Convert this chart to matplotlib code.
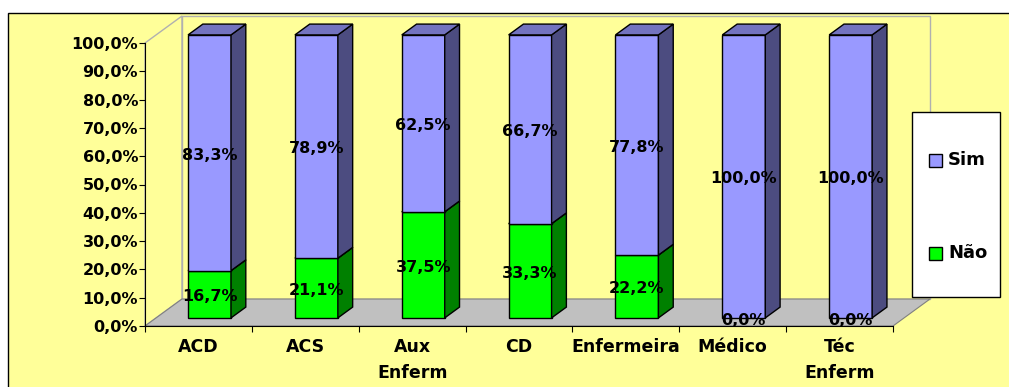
import numpy as np
import matplotlib
matplotlib.use("Agg")
import matplotlib.pyplot as plt
from matplotlib.patches import Polygon, Rectangle

categories = ["ACD", "ACS", "Aux\nEnferm", "CD", "Enfermeira", "Médico", "Téc\nEnferm"]
nao = [16.7, 21.1, 37.5, 33.3, 22.2, 0.0, 0.0]
sim = [83.3, 78.9, 62.5, 66.7, 77.8, 100.0, 100.0]
series_names = ["Sim", "Não"]

# face / side / top colours for each series
sim_cols = ("#9999FF", "#4C4C80", "#7373BF")
nao_cols = ("#00FF00", "#008000", "#00BF00")
bg = "#FFFF99"

plt.rcParams["font.family"] = "DejaVu Sans"
plt.rcParams["font.weight"] = "bold"
fs = 11.5

fig = plt.figure(figsize=(10.09, 3.87), dpi=100)
fig.patch.set_facecolor("white")

# chart area
fig.patches.append(Rectangle((8 / 1009, -0.05), 1.0, (387 - 13) / 387 + 0.05,
                             transform=fig.transFigure, facecolor=bg,
                             edgecolor="black", lw=1, zorder=-5))

ax = fig.add_axes([145 / 1009, (387 - 326) / 387, 748 / 1009, 283 / 387])
ax.set_facecolor("none")
n = len(categories)
ax.set_xlim(0, n)
ax.set_ylim(0, 100)

# depth of the 3d box in data units
D = 37 / (748 / n)
H = 27 / 2.83

# back wall, left wall, floor
ax.add_patch(Polygon([(D, H), (n + D, H), (n + D, 100 + H), (D, 100 + H)],
                     closed=True, facecolor=bg, edgecolor="#B0B0B0", lw=1,
                     clip_on=False, zorder=1))
ax.add_patch(Polygon([(0, 0), (D, H), (D, 100 + H), (0, 100)],
                     closed=True, facecolor="none", edgecolor="#B0B0B0", lw=1,
                     clip_on=False, zorder=1))
ax.add_patch(Polygon([(0, 0), (n, 0), (n + D, H), (D, H)],
                     closed=True, facecolor="#C0C0C0", edgecolor="#808080", lw=0.8,
                     clip_on=False, zorder=1))

bw = 0.402
f0, fd = 0.3, 0.4
ox, oy = f0 * D, f0 * H
bx, by = fd * D, fd * H


def seg(x0, y0, y1, cols, z):
    x1 = x0 + bw
    kw = dict(closed=True, edgecolor="black", lw=1, clip_on=False, zorder=z)
    ax.add_patch(Polygon([(x0, y0), (x1, y0), (x1, y1), (x0, y1)], facecolor=cols[0], **kw))
    ax.add_patch(Polygon([(x1, y0), (x1 + bx, y0 + by), (x1 + bx, y1 + by), (x1, y1)],
                         facecolor=cols[1], **kw))
    ax.add_patch(Polygon([(x0, y1), (x1, y1), (x1 + bx, y1 + by), (x0 + bx, y1 + by)],
                         facecolor=cols[2], **kw))


for i in range(n):
    x0 = i + 0.5 - bw / 2 + ox
    if nao[i] > 0:
        seg(x0, oy, oy + nao[i], nao_cols, 3 + i)
    seg(x0, oy + nao[i], oy + nao[i] + sim[i], sim_cols, 3 + i)
    xc = x0 + bw / 2
    for v, base in ((nao[i], 0), (sim[i], nao[i])):
        ax.text(xc, oy + base + v / 2 - 0.8, f"{v:.1f}%".replace(".", ","),
                ha="center", va="center", fontsize=fs, fontweight="bold",
                zorder=20, clip_on=False)

ax.spines["top"].set_visible(False)
ax.spines["right"].set_visible(False)
ax.spines["left"].set_zorder(15)
ax.spines["bottom"].set_zorder(15)

yt = np.arange(0, 101, 10)
ax.set_yticks(yt)
ax.set_yticklabels([f"{v:.1f}%".replace(".", ",") for v in yt], fontsize=fs, fontweight="bold")
ax.tick_params(axis="y", direction="out", length=4, pad=1)

ax.set_xticks(np.arange(0, n + 1))
ax.set_xticklabels([])
ax.tick_params(axis="x", which="major", direction="out", length=4)
ax.set_xticks(np.arange(n) + 0.5, minor=True)
ax.set_xticklabels(categories, minor=True, fontsize=12.5, fontweight="bold", linespacing=1.5)
ax.tick_params(axis="x", which="minor", length=0, pad=9)

# legend
fig.patches.append(Rectangle((912 / 1009, (387 - 297) / 387), 88 / 1009, 185 / 387,
                             transform=fig.transFigure, facecolor="white",
                             edgecolor="black", lw=1, zorder=30))
for name, cols, yc in ((series_names[0], sim_cols, 160), (series_names[1], nao_cols, 253)):
    fig.patches.append(Rectangle((929 / 1009, (387 - yc - 6.5) / 387), 13 / 1009, 13 / 387,
                                 transform=fig.transFigure, facecolor=cols[0],
                                 edgecolor="black", lw=1, zorder=31))
    fig.text(948 / 1009, (387 - yc) / 387, name, ha="left", va="center",
             fontsize=13, fontweight="bold", zorder=32)

fig.savefig("out.png", dpi=100)
